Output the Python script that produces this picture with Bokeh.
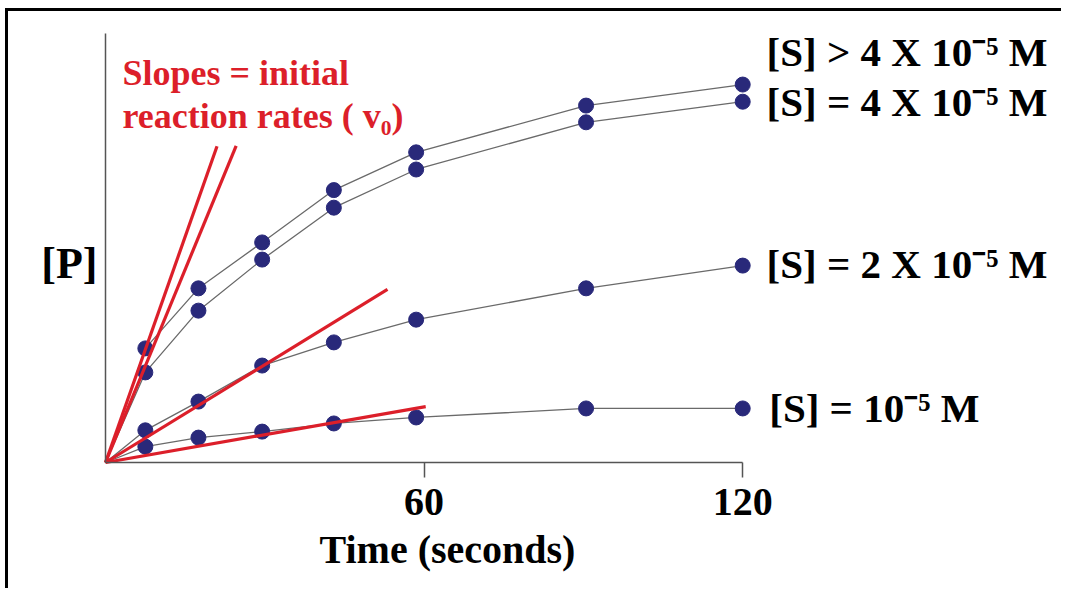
from bokeh.plotting import figure
from bokeh.models import Label, FixedTicker, Range1d
from bokeh.embed import file_html
from bokeh.resources import INLINE

# ---- data ([P] in arbitrary units, time in seconds) ----
times = [7.5, 17.5, 29.5, 43, 58.5, 90.5, 120]
p_gt4 = [26.6, 40.6, 51.3, 63.5, 72.3, 83.2, 88.1]   # [S] > 4 X 10^-5 M
p_eq4 = [21.0, 35.4, 47.3, 59.4, 68.3, 79.3, 84.1]   # [S] = 4 X 10^-5 M
p_eq2 = [7.5, 14.2, 22.6, 28.0, 33.3, 40.6, 45.9]    # [S] = 2 X 10^-5 M
p_eq1 = [3.7, 5.8, 7.2, 9.1, 10.5, 12.6, 12.6]       # [S] = 10^-5 M
series = [p_gt4, p_eq4, p_eq2, p_eq1]
series_labels = ["[S] > 4 X 10\u207b\u2075 M", "[S] = 4 X 10\u207b\u2075 M",
                 "[S] = 2 X 10\u207b\u2075 M", "[S] = 10\u207b\u2075 M"]

# initial rates (slopes of tangent lines) and how far each tangent is drawn
v0 = [3.51, 3.00, 0.76, 0.216]
tangent_end = [21.0, 24.6, 53.1, 60.3]

x_ticks = [60, 120]

SERIF = "Liberation Serif"
RED = "#dc1f2a"
NAVY = "#29297a"
GRAY = "#6a6a6a"

p = figure(width=1056, height=580, output_backend="svg", toolbar_location=None,
           x_range=Range1d(-18.27, 180.6), y_range=Range1d(-30.07, 105.13),
           min_border=0, min_border_left=0, min_border_right=0,
           min_border_top=0, min_border_bottom=0)
p.styles = {"border-top": "3px solid black", "border-left": "3px solid black",
            "margin-left": "5px", "margin-top": "8px"}
p.grid.visible = False
p.outline_line_color = None
p.background_fill_color = "white"
p.border_fill_color = "white"

# axes, drawn at the origin inside the plot area
xa = p.xaxis[0]
xa.fixed_location = 0
xa.ticker = FixedTicker(ticks=x_ticks)
xa.bounds = (0, 120)
xa.axis_line_color = "#555555"
xa.axis_line_width = 1.5
xa.major_tick_line_color = "#555555"
xa.major_tick_line_width = 1.5
xa.major_tick_out = 15
xa.major_tick_in = 0
xa.minor_tick_line_color = None
xa.major_label_text_font = SERIF
xa.major_label_text_font_style = "bold"
xa.major_label_text_font_size = "40px"
xa.major_label_text_color = "black"
xa.major_label_standoff = 11

ya = p.yaxis[0]
ya.fixed_location = 0
ya.ticker = FixedTicker(ticks=[])
ya.bounds = (0, 100)
ya.axis_line_color = "#555555"
ya.axis_line_width = 1.5
ya.major_tick_line_color = None
ya.minor_tick_line_color = None
ya.major_label_text_font_size = "0px"

# curves through the data, starting at the origin
for vals in series:
    p.line(x=[0] + times, y=[0] + vals, line_color=GRAY, line_width=1.3)
for vals in series:
    p.scatter(x=times, y=vals, size=15, fill_color=NAVY, line_color=NAVY)

# tangent lines (initial rates)
p.segment(x0=[0] * len(v0), y0=[0] * len(v0), x1=tangent_end,
          y1=[v * t for v, t in zip(v0, tangent_end)],
          line_color=RED, line_width=3.2)

# texts
def lab(text, x, y, size, color="black", align="left", baseline="alphabetic"):
    p.add_layout(Label(x=x, y=y, text=text, text_font=SERIF, text_font_style="bold",
                       text_font_size=size, text_color=color, text_align=align,
                       text_baseline=baseline))

lab("Slopes = initial", 3.2, 90.7, "36px", RED)
lab("reaction rates ( v\u2080)", 3.2, 80.7, "36px", RED)

label_y = [95.7, 84.1, 46.3, 12.8]
label_x = [124.5, 124.5, 124.5, 125.0]
for t, lx, ly in zip(series_labels, label_x, label_y):
    lab(t, lx, ly, "41px")

lab("[P]", -6.8, 46.4, "44px", align="center", baseline="middle")
lab("Time (seconds)", 64.4, -20.3, "40px", align="center")

open("out.html", "w").write(file_html(p, INLINE))
